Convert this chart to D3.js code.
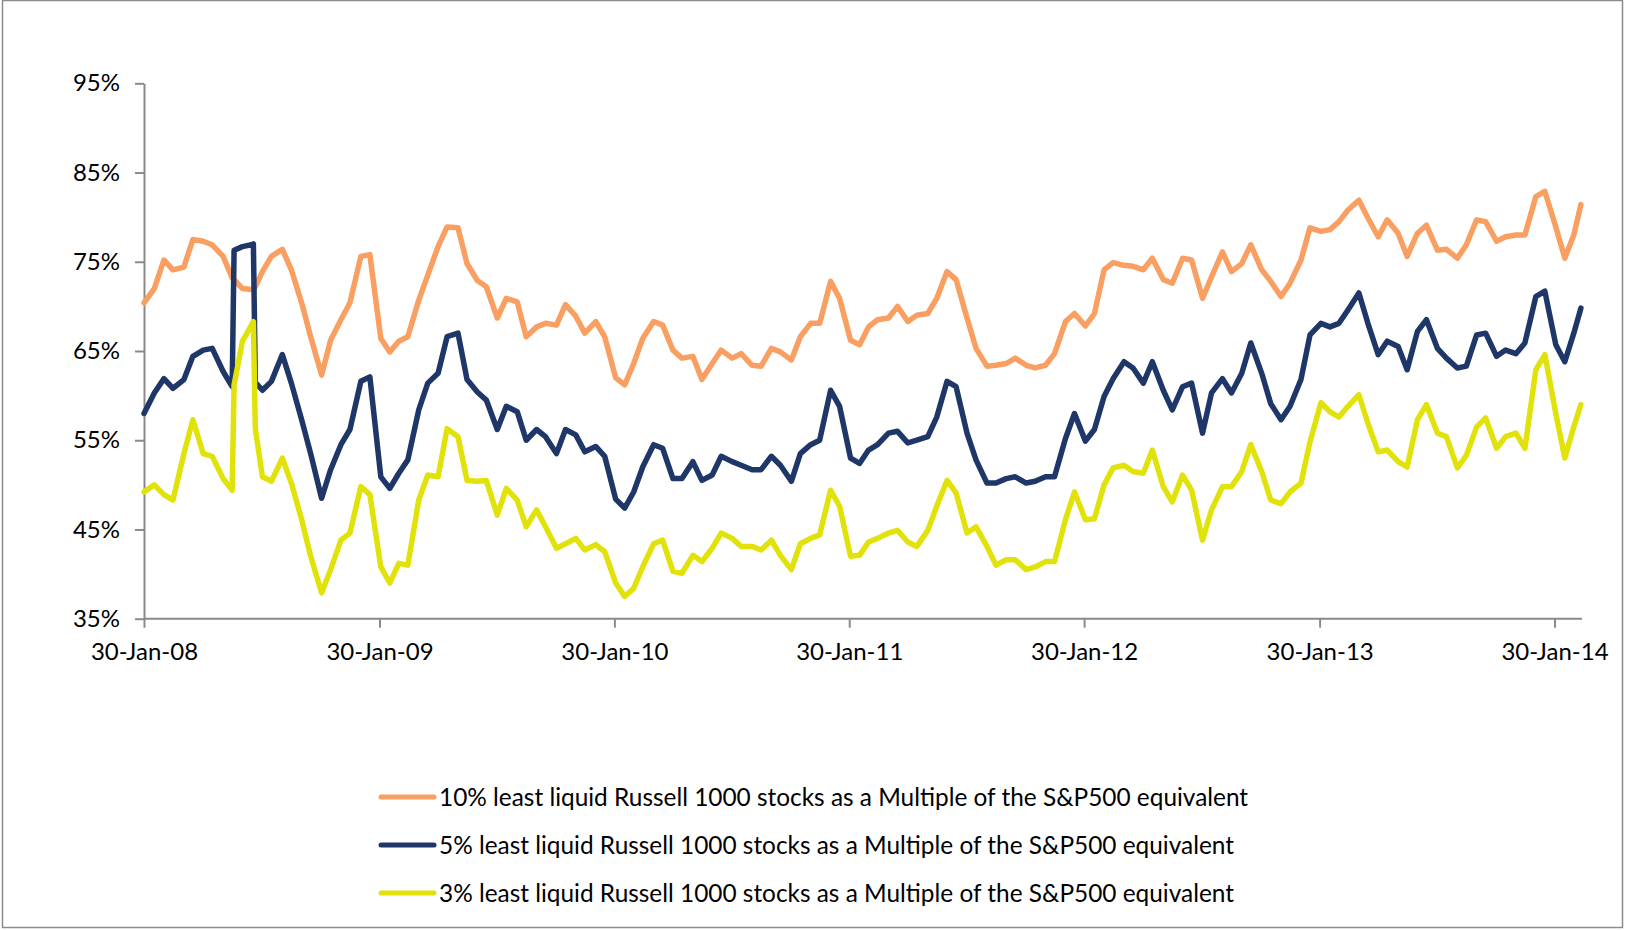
<!DOCTYPE html>
<html><head><meta charset="utf-8">
<script src="https://cdn.jsdelivr.net/npm/d3@7/dist/d3.min.js"></script>
<style>
html,body{margin:0;padding:0;background:#fff;}
svg{display:block;font-family:Lato,"Open Sans",sans-serif;}
</style></head>
<body><svg id="c" width="1625" height="930"></svg>
<script>
const dates = [
"2008-01-30","2008-02-15","2008-03-01","2008-03-15","2008-04-01","2008-04-15","2008-05-01","2008-05-15","2008-06-01","2008-06-15","2008-06-18","2008-07-01","2008-07-15","2008-07-18","2008-07-21","2008-08-01","2008-08-15","2008-09-01","2008-09-15","2008-10-01","2008-10-15","2008-11-01","2008-11-15","2008-12-01","2008-12-15",
"2009-01-01","2009-01-15","2009-02-01","2009-02-15","2009-03-01","2009-03-15","2009-04-01","2009-04-15","2009-05-01","2009-05-15","2009-06-01","2009-06-15","2009-07-01","2009-07-15","2009-08-01","2009-08-15","2009-09-01","2009-09-15","2009-10-01","2009-10-15","2009-11-01","2009-11-15","2009-12-01","2009-12-15",
"2010-01-01","2010-01-15","2010-02-01","2010-02-15","2010-03-01","2010-03-15","2010-04-01","2010-04-15","2010-05-01","2010-05-15","2010-06-01","2010-06-15","2010-07-01","2010-07-15","2010-08-01","2010-08-15","2010-09-01","2010-09-15","2010-10-01","2010-10-15","2010-11-01","2010-11-15","2010-12-01","2010-12-15",
"2011-01-01","2011-01-15","2011-02-01","2011-02-15","2011-03-01","2011-03-15","2011-04-01","2011-04-15","2011-05-01","2011-05-15","2011-06-01","2011-06-15","2011-07-01","2011-07-15","2011-08-01","2011-08-15","2011-09-01","2011-09-15","2011-10-01","2011-10-15","2011-11-01","2011-11-15","2011-12-01","2011-12-15",
"2012-01-01","2012-01-15","2012-02-01","2012-02-15","2012-03-01","2012-03-15","2012-04-01","2012-04-15","2012-05-01","2012-05-15","2012-06-01","2012-06-15","2012-07-01","2012-07-15","2012-08-01","2012-08-15","2012-09-01","2012-09-15","2012-10-01","2012-10-15","2012-11-01","2012-11-15","2012-12-01","2012-12-15",
"2013-01-01","2013-01-15","2013-02-01","2013-02-15","2013-03-01","2013-03-15","2013-04-01","2013-04-15","2013-05-01","2013-05-15","2013-06-01","2013-06-15","2013-07-01","2013-07-15","2013-08-01","2013-08-15","2013-09-01","2013-09-15","2013-10-01","2013-10-15","2013-11-01","2013-11-15","2013-12-01","2013-12-15",
"2014-01-01","2014-01-15","2014-02-01","2014-02-15","2014-03-01","2014-03-12"
];
const least10 = [
70.4,72.0,75.2,74.1,74.4,77.5,77.3,76.9,75.6,73.2,73.0,72.0,71.9,71.9,72.2,73.9,75.6,76.4,74.1,70.4,66.6,62.3,66.2,68.5,70.4,
75.6,75.8,66.4,64.9,66.1,66.6,70.7,73.5,76.7,78.9,78.8,74.8,72.9,72.2,68.7,70.9,70.5,66.6,67.7,68.1,67.9,70.2,68.9,67.0,
68.3,66.6,62.0,61.2,63.6,66.4,68.3,67.9,65.1,64.2,64.4,61.8,63.6,65.1,64.2,64.7,63.4,63.3,65.3,64.9,64.0,66.6,68.1,68.1,
72.8,70.9,66.2,65.7,67.7,68.5,68.7,70.0,68.3,69.0,69.2,70.9,73.9,73.0,68.7,65.3,63.3,63.4,63.6,64.2,63.4,63.1,63.4,64.7,
68.3,69.2,67.8,69.2,74.1,74.9,74.6,74.5,74.1,75.4,73.0,72.6,75.4,75.2,70.9,73.3,76.1,73.9,74.8,76.9,74.1,72.8,71.1,72.6,
75.2,78.8,78.4,78.6,79.5,80.8,81.9,79.9,77.8,79.7,78.2,75.6,78.2,79.1,76.3,76.4,75.4,76.9,79.7,79.5,77.3,77.8,78.0,78.0,
82.3,82.9,78.9,75.4,78.0,81.4
];
const least5 = [
58.0,60.3,61.9,60.8,61.8,64.4,65.1,65.3,62.7,61.0,76.3,76.7,76.9,77.0,61.5,60.6,61.6,64.6,61.4,57.3,53.5,48.5,51.7,54.5,56.2,
61.6,62.1,50.9,49.6,51.3,52.8,58.4,61.4,62.5,66.6,67.0,61.8,60.4,59.5,56.2,58.8,58.2,55.0,56.2,55.4,53.5,56.2,55.6,53.7,
54.3,53.2,48.4,47.4,49.2,52.0,54.5,54.1,50.7,50.7,52.6,50.5,51.1,53.2,52.6,52.2,51.7,51.7,53.2,52.2,50.4,53.5,54.5,55.0,
60.6,58.8,53.0,52.4,53.9,54.5,55.8,56.0,54.7,55.0,55.4,57.6,61.6,61.0,55.8,52.8,50.2,50.2,50.7,50.9,50.2,50.4,50.9,50.9,
55.2,58.0,54.9,56.2,59.9,61.9,63.8,63.1,61.4,63.8,60.6,58.4,61.0,61.4,55.8,60.3,61.9,60.3,62.5,65.9,62.5,59.1,57.3,58.8,
61.8,66.8,68.1,67.7,68.1,69.6,71.5,68.1,64.6,66.1,65.5,62.9,67.2,68.5,65.3,64.2,63.1,63.3,66.8,67.0,64.4,65.1,64.7,65.9,
71.1,71.7,65.7,63.8,67.0,69.8
];
const least3 = [
49.2,50.0,48.9,48.3,53.5,57.3,53.5,53.2,50.7,49.4,61.2,66.1,67.9,68.3,56.3,50.9,50.4,53.0,50.2,46.1,42.0,37.9,40.5,43.8,44.6,
49.8,48.9,40.8,39.0,41.2,41.0,48.3,51.1,50.9,56.3,55.4,50.5,50.4,50.5,46.6,49.6,48.3,45.3,47.2,45.3,42.9,43.4,44.0,42.7,
43.3,42.5,39.0,37.5,38.4,40.8,43.4,43.8,40.3,40.1,42.1,41.4,42.9,44.6,44.0,43.1,43.1,42.7,43.8,42.1,40.5,43.4,44.0,44.4,
49.4,47.6,42.0,42.1,43.6,44.0,44.6,44.9,43.6,43.1,44.9,47.6,50.5,49.1,44.6,45.3,43.1,41.0,41.6,41.6,40.5,40.8,41.4,41.4,
46.1,49.2,46.1,46.2,50.0,51.9,52.2,51.5,51.3,53.9,49.8,48.1,51.1,49.4,43.8,47.2,49.8,49.8,51.5,54.5,51.5,48.3,47.9,49.2,
50.2,54.8,59.2,58.2,57.6,58.8,60.1,56.9,53.7,53.9,52.6,52.0,57.3,59.0,55.8,55.4,51.9,53.3,56.5,57.5,54.1,55.4,55.8,54.1,
62.9,64.6,58.0,53.0,56.5,59.0
];
const seriesNames = [
"10% least liquid Russell 1000 stocks as a Multiple of the S&P500 equivalent",
"5% least liquid Russell 1000 stocks as a Multiple of the S&P500 equivalent",
"3% least liquid Russell 1000 stocks as a Multiple of the S&P500 equivalent"
];
const seriesColors = ["#FA9F62","#1F3768","#E2E20B"];
const yTicks = [35,45,55,65,75,85,95];
const xTickDates = ["2008-01-30","2009-01-30","2010-01-30","2011-01-30","2012-01-30","2013-01-30","2014-01-30"];

const parse = d3.utcParse("%Y-%m-%d");
const svg = d3.select("#c");
const axisColor = "#8a8a8a";
const tickFont = 24;
const legendFont = 24.4;

// outer border
svg.append("rect").attr("x",2.5).attr("y",0.5).attr("width",1620).attr("height",927)
  .attr("fill","none").attr("stroke","#8c8c8c").attr("stroke-width",1.5);

const x = d3.scaleUtc().domain([parse("2008-01-30"), parse("2014-01-30")]).range([144, 1554.5]);
const y = d3.scaleLinear().domain([35,95]).range([618.7, 83.3]);
const xEnd = 1582;

// Y axis
const yAxis = svg.append("g").attr("transform","translate(144,0)")
  .call(d3.axisLeft(y).tickValues(yTicks).tickFormat(d=>d+"%").tickSize(9).tickPadding(15).tickSizeOuter(0));
yAxis.select(".domain").attr("stroke",axisColor).attr("stroke-width",2);
yAxis.selectAll(".tick line").attr("stroke",axisColor).attr("stroke-width",2);
yAxis.selectAll(".tick text").attr("font-size",tickFont).attr("fill","#000").attr("font-family","Lato, sans-serif");

// X axis
const xAxis = svg.append("g").attr("transform","translate(0,618.7)")
  .call(d3.axisBottom(x).tickValues(xTickDates.map(parse)).tickFormat(d3.utcFormat("%d-%b-%y")).tickSize(9).tickPadding(15).tickSizeOuter(0));
xAxis.select(".domain").remove();
xAxis.append("line").attr("x1",144).attr("x2",xEnd).attr("y1",0).attr("y2",0).attr("stroke",axisColor).attr("stroke-width",2);
xAxis.selectAll(".tick line").attr("stroke",axisColor).attr("stroke-width",2);
xAxis.selectAll(".tick text").attr("font-size",tickFont).attr("fill","#000").attr("font-family","Lato, sans-serif");

// lines
const allSeries = [least10, least5, least3];
const line = d3.line().x(d=>x(d.date)).y(d=>y(d.v)).curve(d3.curveLinear);
allSeries.forEach((vals,i)=>{
  const data = dates.map((ds,j)=>({date:parse(ds), v:vals[j]}));
  svg.append("path").datum(data).attr("d",line).attr("fill","none")
    .attr("stroke",seriesColors[i]).attr("stroke-width",5.5)
    .attr("stroke-linejoin","round").attr("stroke-linecap","round");
});

// legend
const legY = [797, 845, 893];
seriesNames.forEach((nm,i)=>{
  svg.append("line").attr("x1",381).attr("x2",434).attr("y1",legY[i]).attr("y2",legY[i])
    .attr("stroke",seriesColors[i]).attr("stroke-width",5).attr("stroke-linecap","round");
  svg.append("text").attr("x",439).attr("y",legY[i]).attr("dy","0.35em")
    .attr("font-size",legendFont).attr("fill","#000").attr("font-family","Lato, sans-serif").text(nm);
});
</script></body></html>
